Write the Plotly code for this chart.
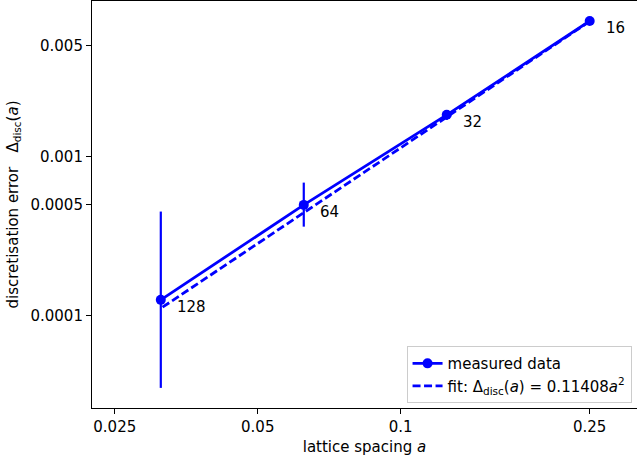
import numpy as np
import plotly.graph_objects as go

# ---- data ----
lattice_sizes = [16, 32, 64, 128]
spacing = [0.25, 0.125, 0.0625, 0.03125]
disc_error = [0.00716, 0.00184, 0.000499, 0.000126]
err_plus = [0.0001, 0.00013, 0.00019, 0.000327]
err_minus = [0.0001, 0.00013, 0.000135, 0.0000908]
fit_coef = 0.11408

x_ticks = [0.025, 0.05, 0.1, 0.25]
x_tick_labels = ["0.025", "0.05", "0.1", "0.25"]
y_ticks = [0.0001, 0.0005, 0.001, 0.005]
y_tick_labels = ["0.0001", "0.0005", "0.001", "0.005"]

fit_vals = [fit_coef * a ** 2 for a in spacing]

BLUE = "#0000ff"
FONT = "DejaVu Sans"

fig = go.Figure()
fig.add_trace(go.Scatter(
    x=spacing, y=disc_error, mode="lines+markers",
    name="measured data",
    line=dict(color=BLUE, width=2.8),
    marker=dict(color=BLUE, size=10),
    error_y=dict(type="data", symmetric=False, array=err_plus,
                 arrayminus=err_minus, color=BLUE, thickness=2.2, width=0),
))
fig.add_trace(go.Scatter(
    x=spacing, y=fit_vals, mode="lines",
    name="fit: Δ<sub>disc</sub>(<i>a</i>) = 0.11408<i>a</i><sup>2</sup>",
    line=dict(color=BLUE, width=2.8, dash="8px,3.5px"),
))

for a, v, n in zip(spacing, disc_error, lattice_sizes):
    fig.add_annotation(x=np.log10(a), y=np.log10(v), text=str(n),
                       xref="x", yref="y", showarrow=False,
                       xanchor="left", yanchor="middle",
                       xshift=14, yshift=-7,
                       font=dict(family=FONT, size=15, color="black"))

fig.update_layout(
    width=637, height=461,
    margin=dict(l=92, r=0, t=1, b=53, autoexpand=False),
    paper_bgcolor="white", plot_bgcolor="white",
    font=dict(family=FONT, size=15, color="black"),
    showlegend=True,
    legend=dict(x=0.99, y=0.012, xanchor="right", yanchor="bottom",
                bordercolor="#cccccc", borderwidth=1,
                bgcolor="rgba(255,255,255,0.8)",
                font=dict(family=FONT, size=15), tracegroupgap=0,
                itemwidth=30),
)
fig.update_xaxes(
    type="log", range=[-1.650, -0.5025],
    tickvals=x_ticks, ticktext=x_tick_labels,
    showgrid=False, zeroline=False,
    showline=True, linecolor="black", linewidth=1.1, mirror=True,
    ticks="outside", ticklen=5, tickwidth=1.1, tickcolor="black",
    title=dict(text="lattice spacing <i>a</i>", standoff=6,
               font=dict(family=FONT, size=15)),
)
fig.update_yaxes(
    type="log", range=[-4.580, -2.019],
    tickvals=y_ticks, ticktext=y_tick_labels,
    showgrid=False, zeroline=False,
    showline=True, linecolor="black", linewidth=1.1, mirror=False,
    ticks="outside", ticklen=5, tickwidth=1.1, tickcolor="black",
    title=dict(text="discretisation error   Δ<sub>disc</sub>(<i>a</i>)",
               standoff=8, font=dict(family=FONT, size=15)),
)

fig.write_html("out.html", config={"displayModeBar": False},
               post_script="document.body.style.margin='0';document.body.style.overflow='hidden';")
